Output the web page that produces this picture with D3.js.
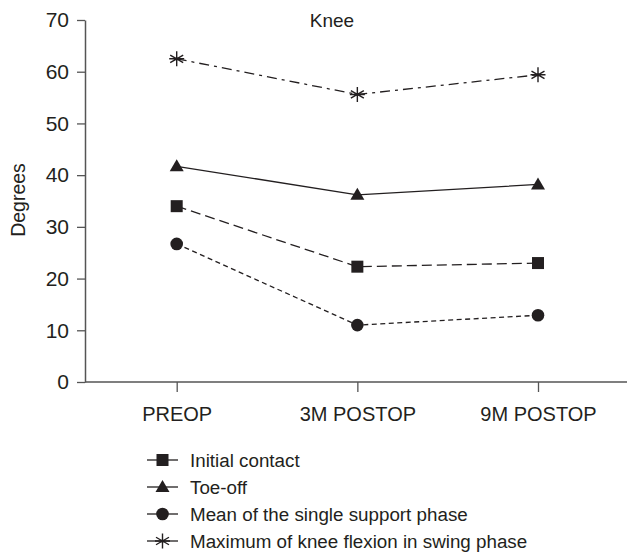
<!DOCTYPE html>
<html>
<head>
<meta charset="utf-8">
<script src="https://cdn.jsdelivr.net/npm/d3@7"></script>
<style>
  html, body { margin: 0; padding: 0; background: #fff; }
  svg { display: block; font-family: "Liberation Sans", Arial, Helvetica, sans-serif; }
</style>
</head>
<body>
<svg id="chart" width="628" height="557"></svg>
<script>
// Knee kinematics at three time points
const timepoints = ["PREOP", "3M POSTOP", "9M POSTOP"];
const initialContact = [34.0, 22.3, 23.0];
const toeOff = [41.7, 36.2, 38.2];
const singleSupportMean = [26.7, 11.0, 12.9];
const maxSwingFlexion = [62.5, 55.6, 59.4];
const yTicks = [0, 10, 20, 30, 40, 50, 60, 70];
const seriesNames = [
  "Initial contact",
  "Toe-off",
  "Mean of the single support phase",
  "Maximum of knee flexion in swing phase"
];

const series = [
  { name: seriesNames[0], values: initialContact, dash: "10,5", marker: "square" },
  { name: seriesNames[1], values: toeOff, dash: null, marker: "triangle" },
  { name: seriesNames[2], values: singleSupportMean, dash: "5,3.5", marker: "circle" },
  { name: seriesNames[3], values: maxSwingFlexion, dash: "10,5,3,5", marker: "star" }
];

const svg = d3.select("#chart");
const ink = "#231f20";
const axisColor = "#555";
const fontStack = "'Liberation Sans', Arial, sans-serif";

const margin = { left: 85, top: 20, bottom: 382 };
const x = d3.scalePoint().domain(timepoints).range([176.7, 538]);
const y = d3.scaleLinear().domain([0, 70]).range([margin.bottom, margin.top]);

// y axis
const yAxis = svg.append("g").attr("transform", `translate(${margin.left},0)`)
  .call(d3.axisLeft(y).tickValues(yTicks).tickSize(8).tickPadding(8).tickSizeOuter(0));
yAxis.select(".domain").attr("stroke", axisColor).attr("stroke-width", 1.5);
yAxis.selectAll(".tick line").attr("stroke", axisColor).attr("stroke-width", 1.3);
yAxis.selectAll(".tick text").attr("font-size", 21).attr("fill", ink)
  .attr("font-family", fontStack);

// x axis
const xAxis = svg.append("g").attr("transform", `translate(0,${margin.bottom})`);
xAxis.append("line").attr("x1", margin.left).attr("x2", 627)
  .attr("stroke", axisColor).attr("stroke-width", 1.5);
const xa = d3.axisBottom(x).tickSize(10).tickPadding(15).tickSizeOuter(0);
const xg = xAxis.append("g").call(xa);
xg.select(".domain").remove();
xg.selectAll(".tick line").attr("stroke", axisColor).attr("stroke-width", 1.3);
xg.selectAll(".tick text").attr("font-size", 20).attr("fill", ink)
  .attr("font-family", fontStack);

// axis title and chart title
svg.append("text").attr("transform", "translate(25,200) rotate(-90)")
  .attr("text-anchor", "middle").attr("font-size", 19.5).attr("fill", ink).text("Degrees");
svg.append("text").attr("x", 332).attr("y", 27).attr("text-anchor", "middle")
  .attr("font-size", 19).attr("fill", ink).text("Knee");

function drawMarker(g, type, cx, cy) {
  if (type === "square") {
    g.append("rect").attr("x", cx - 6).attr("y", cy - 6).attr("width", 12).attr("height", 12).attr("fill", ink);
  } else if (type === "triangle") {
    g.append("path").attr("d", `M${cx},${cy - 7}L${cx + 7},${cy + 5}L${cx - 7},${cy + 5}Z`).attr("fill", ink);
  } else if (type === "circle") {
    g.append("circle").attr("cx", cx).attr("cy", cy).attr("r", 6.3).attr("fill", ink);
  } else if (type === "star") {
    const r = 7.5;
    const p = [];
    [0, 60, 120].forEach(a => {
      const t = a * Math.PI / 180;
      p.push(`M${cx - r * Math.sin(t)},${cy - r * Math.cos(t)}L${cx + r * Math.sin(t)},${cy + r * Math.cos(t)}`);
    });
    p.push(`M${cx - r},${cy}L${cx + r},${cy}`);
    g.append("path").attr("d", p.join("")).attr("stroke", ink).attr("stroke-width", 1.4).attr("fill", "none");
    g.append("circle").attr("cx", cx).attr("cy", cy).attr("r", 1.5).attr("fill", ink);
  }
}

const line = d3.line().x((d, i) => x(timepoints[i])).y(d => y(d));

series.forEach(s => {
  const g = svg.append("g");
  g.append("path").datum(s.values).attr("d", line)
    .attr("fill", "none").attr("stroke", ink).attr("stroke-width", 1.3)
    .attr("stroke-dasharray", s.dash);
  s.values.forEach((v, i) => drawMarker(g, s.marker, x(timepoints[i]), y(v)));
});

// legend
const legendY = d3.scalePoint().domain(seriesNames).range([460, 541]);
series.forEach(s => {
  const ly = legendY(s.name);
  const g = svg.append("g");
  g.append("line").attr("x1", 147).attr("x2", 178).attr("y1", ly).attr("y2", ly)
    .attr("stroke", ink).attr("stroke-width", 1.3);
  drawMarker(g, s.marker, 162.5, ly);
  g.append("text").attr("x", 190).attr("y", ly + 7).attr("font-size", 18.8).attr("fill", ink).text(s.name);
});
</script>
</body>
</html>
